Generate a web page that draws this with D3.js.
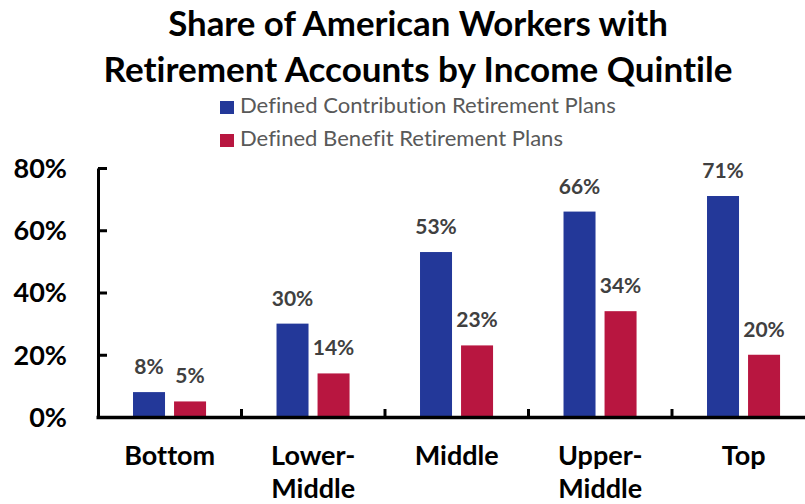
<!DOCTYPE html>
<html><head><meta charset="utf-8">
<script src="https://cdn.jsdelivr.net/npm/d3@7"></script>
<style>html,body{margin:0;padding:0;background:#fff;overflow:hidden}text{font-family:Lato,"Open Sans",sans-serif;font-variant-ligatures:none;font-feature-settings:"liga" 0,"clig" 0,"dlig" 0}</style>
</head><body><svg id="c" width="805" height="504"></svg>
<script>
const titleLines = ["Share of American Workers with", "Retirement Accounts by Income Quintile"];
const categories = ["Bottom", "Lower-Middle", "Middle", "Upper-Middle", "Top"];
const seriesNames = ["Defined Contribution Retirement Plans", "Defined Benefit Retirement Plans"];
const definedContribution = [8, 30, 53, 66, 71];
const definedBenefit = [5, 14, 23, 34, 20];
const yTicks = [0, 20, 40, 60, 80];
const colors = ["#233899", "#B81640"];

const svg = d3.select("#c");
const plotLeft = 98, plotRight = 815.5, plotTop = 168, plotBottom = 417;
const x = d3.scaleBand().domain(categories).range([plotLeft, plotRight]).padding(0);
const bw = x.bandwidth();
const xs = d3.scaleBand().domain(seriesNames).range([bw * 0.244, bw * 0.753]).paddingInner(0.22);
const y = d3.scaleLinear().domain([0, 80]).range([plotBottom, plotTop]);

function fit(sel, target) {
  const w = sel.node().getComputedTextLength();
  const fs = parseFloat(sel.attr("font-size"));
  sel.attr("font-size", fs * target / w);
}

// Title
const tW = [500, 629], tY = [36, 82];
titleLines.forEach((t, i) => {
  const s = svg.append("text").attr("x", 418).attr("y", tY[i]).attr("text-anchor", "middle")
    .attr("font-weight", "bold").attr("font-size", 30).attr("fill", "#000").text(t);
  fit(s, tW[i]);
});

// Legend
const lW = [376, 323], lY = [113, 146];
seriesNames.forEach((n, i) => {
  svg.append("rect").attr("x", 220).attr("y", lY[i] - 12).attr("width", 14).attr("height", 13).attr("fill", colors[i]);
  const s = svg.append("text").attr("x", 240).attr("y", lY[i]).attr("font-size", 18).attr("fill", "#595959").text(n);
  fit(s, lW[i]);
});

// Bars
const series = [definedContribution, definedBenefit];
const g = svg.append("g");
series.forEach((vals, si) => {
  g.selectAll(null).data(categories).enter().append("rect")
    .attr("x", (c) => x(c) + xs(seriesNames[si]))
    .attr("width", xs.bandwidth())
    .attr("y", (c, i) => y(vals[i]))
    .attr("height", (c, i) => y(0) - y(vals[i]))
    .attr("fill", colors[si]);
  g.selectAll(null).data(categories).enter().append("text")
    .attr("x", (c) => x(c) + xs(seriesNames[si]) + xs.bandwidth() / 2)
    .attr("y", (c, i) => y(vals[i]) - 18)
    .attr("text-anchor", "middle").attr("font-weight", "bold").attr("font-size", 21)
    .attr("fill", "#404040")
    .text((c, i) => vals[i] + "%");
});

// Y axis
const ya = svg.append("g").attr("transform", `translate(${plotLeft},0)`)
  .call(d3.axisLeft(y).tickValues(yTicks).tickFormat(d => d + "%").tickSizeInner(-9).tickSizeOuter(0).tickPadding(31));
ya.select(".domain").attr("stroke", "#000").attr("stroke-width", 3);
ya.selectAll(".tick line").attr("stroke", "#000").attr("stroke-width", 3);
ya.selectAll(".tick text").attr("font-family", "Lato").attr("font-weight", "bold").attr("font-size", 27).attr("fill", "#000").attr("dy", "0.35em");

// X axis
svg.append("line").attr("x1", plotLeft - 1.5).attr("x2", 805).attr("y1", plotBottom + 0.5).attr("y2", plotBottom + 0.5)
  .attr("stroke", "#000").attr("stroke-width", 3.5);
svg.selectAll(null).data(categories.slice(1)).enter().append("line")
  .attr("x1", c => x(c)).attr("x2", c => x(c)).attr("y1", plotBottom - 8).attr("y2", plotBottom)
  .attr("stroke", "#000").attr("stroke-width", 3);

// Category labels
categories.forEach(c => {
  const parts = c.includes("-") ? [c.split("-")[0] + "-", c.split("-")[1]] : [c];
  const t = svg.append("text").attr("x", x(c) + bw / 2).attr("y", 465).attr("text-anchor", "middle")
    .attr("font-weight", "bold").attr("font-size", 27).attr("fill", "#000");
  parts.forEach((p, i) => t.append("tspan").attr("x", x(c) + bw / 2).attr("y", 465 + i * 33).text(p));
});
</script></body></html>
